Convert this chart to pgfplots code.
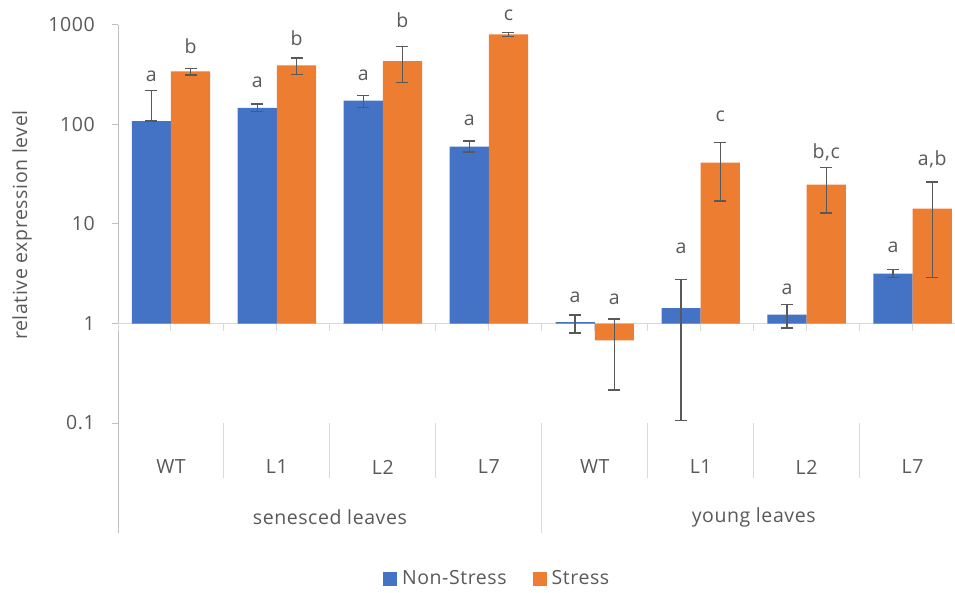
\documentclass[border=0pt]{standalone}
\usepackage{pgfplots}
\usepackage{pgfplotstable}
\pgfplotsset{compat=1.18}
\usepackage{fontspec}
\setmainfont{Open Sans}[LetterSpace=3]
\definecolor{cblue}{HTML}{4472C4}
\definecolor{corange}{HTML}{ED7D31}
\definecolor{tgray}{HTML}{595959}
\definecolor{agray}{HTML}{BFBFBF}
\definecolor{sgray}{HTML}{D9D9D9}
\newcommand{\ff}{\fontsize{19.5}{22}\selectfont}

% x positions are category index -/+ 0.185 (bar centres)
\pgfplotstableread{
x y ep em
-0.185 108 111 0
0.815 147 13 12
1.815 174 22 25
2.815 60 8 7
3.815 1.03 0.19 0.23
4.815 1.43 1.34 1.324
5.815 1.23 0.32 0.33
6.815 3.18 0.33 0.30
}\nonstress

\pgfplotstableread{
x y ep em
0.185 341 24 28
1.185 394 74 76
2.185 433 171 167
3.185 803 38 37
4.185 0.675 0.435 0.46
5.185 41.5 24.5 24.5
6.185 24.8 12.2 11.9
7.185 14.3 12.2 11.42
}\stress

\pgfplotstableread{
x y lab
-0.185 304 a
0.815 264 a
1.815 311 a
2.815 110 a
3.815 1.82 a
4.815 5.67 a
5.815 2.2 a
6.815 5.8 a
0.185 608 b
1.185 732 b
2.185 1110 b
3.185 1254 c
4.185 1.74 a
5.185 120 c
6.185 52 {b,c}
7.185 44.5 {a,b}
}\letters

\begin{document}
\ff
\begin{tikzpicture}
\useasboundingbox (0pt,0pt) rectangle (955pt,592pt);
\begin{axis}[
  at={(118pt,169pt)}, anchor=south west,
  scale only axis, width=837pt, height=398pt,
  ymode=log,
  xmin=-0.5, xmax=7.4, ymin=0.1, ymax=1000,
  clip=false,
  tick label style={font=\ff, color=tgray},
  label style={font=\ff, color=tgray},
  axis x line*=bottom, axis y line*=left,
  x axis line style={draw=none},
  y axis line style={color=agray, line width=1pt, -},
  xtick={0,...,7},
  xticklabels={WT,L1,L2,L7,WT,L1,L2,L7},
  xtick style={draw=none},
  xticklabel style={anchor=center, yshift=-38pt},
  ytick={0.1,1,10,100,1000},
  yticklabels={0.1,1,10,100,1000},
  ytick style={color=agray, line width=1pt},
  tick align=outside, major tick length=6pt,
  minor tick num=0, yminorticks=false,
  yticklabel style={xshift=-17pt, anchor=east, inner sep=0pt},
  ylabel={relative expression level},
  ylabel style={at={(axis description cs:-0.1147,0.4975)}, anchor=center},
  legend style={at={(0.453,-0.392)}, anchor=center, draw=none, fill=none,
    legend columns=2, text=tgray, font=\ff,
    /tikz/every odd column/.append style={column sep=3pt},
    /tikz/every even column/.append style={column sep=24pt}},
  legend image code/.code={\fill[#1] (0pt,-7pt) rectangle (14pt,7pt);},
]
% category axis at y=1
\draw[sgray, line width=1pt] (axis cs:-0.5,1) -- (axis cs:7.4,1);
\pgfplotsinvokeforeach{-0.5,0,0.5,1,1.5,2,2.5,3,3.5,4,4.5,5,5.5,6,6.5,7}{
  \draw[sgray, line width=1pt] (axis cs:#1,1) -- ++(0pt,-7pt);
}
% separators below
\pgfplotsinvokeforeach{0.5,1.5,2.5,4.5,5.5,6.5}{
  \draw[sgray, line width=1pt] (axis cs:#1,0.1) -- ++(0pt,-55pt);
}
\draw[sgray, line width=1pt] (axis cs:3.5,0.1) -- ++(0pt,-110pt);
\draw[agray, line width=1pt] (axis cs:-0.5,0.1) -- ++(0pt,-110pt);

\addplot[ybar, bar width=0.37, bar shift=0pt, fill=cblue, draw=none,
  error bars/.cd, y dir=both, y explicit,
  error bar style={color=tgray, line width=1.4pt},
  error mark options={rotate=90, mark size=6pt, line width=1.4pt, color=tgray}]
  table[x=x, y=y, y error plus=ep, y error minus=em] {\nonstress};
\addlegendentry{Non-Stress}
\addplot[ybar, bar width=0.37, bar shift=0pt, fill=corange, draw=none,
  error bars/.cd, y dir=both, y explicit,
  error bar style={color=tgray, line width=1.4pt},
  error mark options={rotate=90, mark size=6pt, line width=1.4pt, color=tgray}]
  table[x=x, y=y, y error plus=ep, y error minus=em] {\stress};
\addlegendentry{Stress}

\addplot[draw=none, mark=none, forget plot, nodes near coords, point meta=explicit symbolic,
  every node near coord/.style={anchor=center, color=tgray, font=\ff}]
  table[x=x, y=y, meta=lab] {\letters};

\node[color=tgray, anchor=center, font=\ff] at (axis cs:1.5,0.1) [yshift=-94pt] {senesced leaves};
\node[color=tgray, anchor=center, font=\ff] at (axis cs:5.5,0.1) [yshift=-94pt] {young leaves};
\end{axis}
\end{tikzpicture}
\end{document}
